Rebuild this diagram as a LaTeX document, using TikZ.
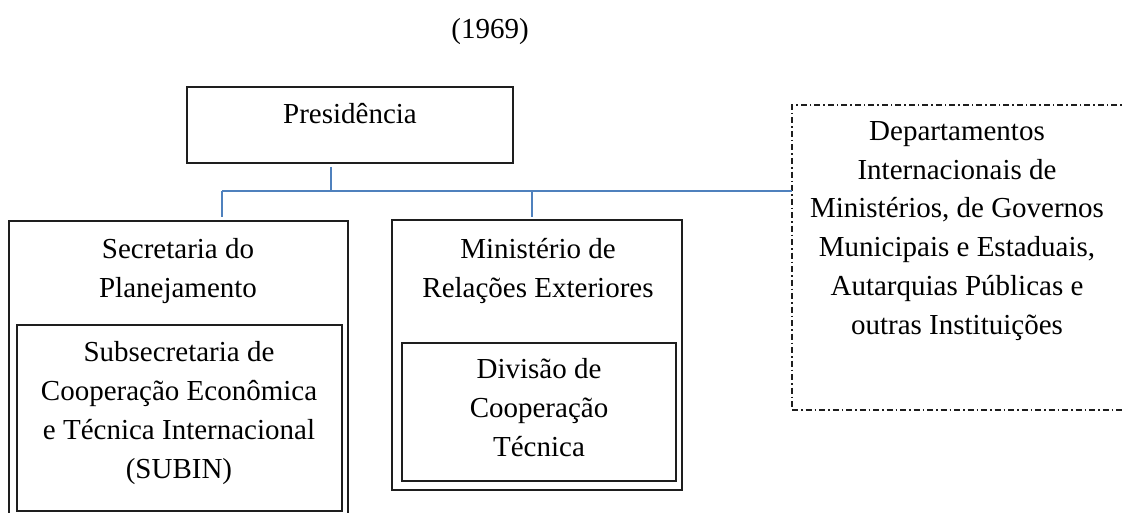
\documentclass[tikz,border=0pt]{standalone}
\usepackage{fontspec}
\setmainfont{Liberation Serif}
\definecolor{linkblue}{RGB}{79,129,189}
\definecolor{boxline}{RGB}{30,30,30}
\begin{document}
\begin{tikzpicture}[x=1pt,y=-1pt,
  box/.style={draw=boxline, line width=1.2pt, anchor=north west, outer sep=0pt, inner sep=0pt},
  dbox/.style={box, dash pattern=on 6pt off 3pt on 1.5pt off 3pt, line width=1.1pt},
  lbl/.style={align=center, anchor=base, inner sep=0pt, font=\fontsize{29}{38.7}\selectfont},
  conn/.style={draw=linkblue, line width=1.6pt}]
\useasboundingbox (0,0) rectangle (1123,513);
\clip (0,0) rectangle (1123,513);
% boxes
\node[box, minimum width=326pt, minimum height=76pt] (pres) at (187,87) {};
\node[box, minimum width=339pt, minimum height=310pt] (sec) at (9,221) {};
\node[box, minimum width=325pt, minimum height=186pt] (subin) at (17,325) {};
\node[box, minimum width=290pt, minimum height=270pt] (mre) at (392,220) {};
\node[box, minimum width=274pt, minimum height=138pt] (div) at (402,343) {};
\node[dbox, minimum width=334pt, minimum height=305pt] (dept) at (792,105) {};
% texts (anchor base = baseline of the last line)
\node[lbl] (year) at (490,39) {(1969)};
\node[lbl] (prestxt) at (350,124) {Presidência};
\node[lbl] (sectxt) at (178,297) {Secretaria do\\Planejamento};
\node[lbl] (subintxt) at (179,478) {Subsecretaria de\\Cooperação Econômica\\e Técnica Internacional\\(SUBIN)};
\node[lbl] (mretxt) at (538,297) {Ministério de\\Relações Exteriores};
\node[lbl] (divtxt) at (539,456) {Divisão de\\Cooperação\\Técnica};
\node[lbl] (depttxt) at (957,334) {Departamentos\\Internacionais de\\Ministérios, de Governos\\Municipais e Estaduais,\\Autarquias Públicas e\\outras Instituições};
% connectors
\coordinate (presfoot) at (331,167);
\coordinate (busL) at (222,191);
\coordinate (secTop) at (222,217);
\coordinate (mreTop) at (532,217);
\draw[conn] (presfoot) -- (presfoot |- busL);
\draw[conn] (busL) -- (busL -| dept.west);
\draw[conn] (busL) -- (secTop);
\draw[conn] (mreTop |- busL) -- (mreTop);
\end{tikzpicture}
\end{document}
